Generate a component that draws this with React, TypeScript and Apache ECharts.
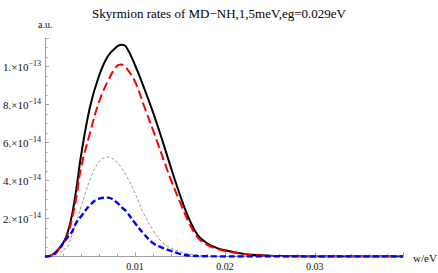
import React, { useEffect, useRef } from "react";
import * as echarts from "echarts";

// x values in eV
const xs = [0, 0.0005, 0.001, 0.0015, 0.002, 0.0025, 0.003, 0.0035, 0.004, 0.005, 0.006, 0.007, 0.008, 0.0085, 0.009, 0.01, 0.011, 0.012, 0.013, 0.014, 0.015, 0.016, 0.017, 0.018, 0.019, 0.02, 0.022, 0.024, 0.026, 0.028, 0.03, 0.035, 0.0398];
// rates in units of 1e-14 a.u.
const blackSeries = [0, 0.03, 0.16, 0.39, 0.68, 1.24, 2.18, 3.6, 5.29, 7.87, 9.5, 10.55, 11.05, 11.15, 11.05, 10.08, 8.89, 7.6, 6.18, 4.68, 3.25, 2.0, 1.12, 0.7, 0.47, 0.33, 0.15, 0.06, 0.025, 0.01, 0.004, 0, 0];
const redSeries = [0, 0.03, 0.15, 0.37, 0.63, 1.13, 1.97, 3.18, 4.66, 6.5, 8.13, 9.24, 10.03, 10.1, 9.95, 9.21, 7.94, 6.66, 5.34, 4.03, 2.87, 1.78, 1.0, 0.62, 0.42, 0.29, 0.13, 0.05, 0.02, 0.008, 0.003, 0, 0];
const graySeries = [0, 0.02, 0.08, 0.18, 0.34, 0.5, 1.13, 1.82, 2.6, 4.03, 4.97, 5.24, 4.97, 4.66, 4.29, 3.34, 2.24, 1.39, 0.76, 0.45, 0.26, 0.14, 0.08, 0.04, 0.02, 0.01, 0.003, 0, 0, 0, 0, 0, 0];
const blueSeries = [0, 0.01, 0.12, 0.35, 0.7, 1.0, 1.3, 1.8, 2.1, 2.71, 3.05, 3.1, 2.84, 2.6, 2.39, 1.76, 1.18, 0.71, 0.47, 0.3, 0.14, 0.05, 0.02, 0.01, 0.005, 0.003, 0, 0, 0, 0, 0, 0, 0];
const xTickLabels = ["0.01", "0.02", "0.03"];
const yTickValues = [2, 4, 6, 8, 10];

const FONT = "Liberation Serif";

export default function App() {
  const ref = useRef<HTMLDivElement>(null);
  useEffect(() => {
    if (!ref.current) return;
    const chart = echarts.init(ref.current, null, { renderer: "svg" });
    const pairs = (ys: number[]) => xs.map((x, i) => [x, ys[i]]);
    const lineBase = {
      type: "line",
      smooth: 0.4,
      showSymbol: false,
      symbol: "none",
    };
    chart.setOption({
      animation: false,
      backgroundColor: "#ffffff",
      textStyle: { fontFamily: FONT },
      title: {
        text: "Skyrmion rates of MD\u2212NH,1,5meV,eg=0.029eV",
        left: "center",
        top: 2,
        textStyle: { fontFamily: FONT, fontSize: 13, fontWeight: "normal", color: "#000" },
      },
      grid: { left: 45, right: 35, top: 38, bottom: 16.5, containLabel: false },
      graphic: [
        { type: "text", left: 38, top: 19, style: { text: "a.u.", fontFamily: FONT, fontSize: 10, fill: "#111" } },
        { type: "text", left: 413, top: 252, style: { text: "w/eV", fontFamily: FONT, fontSize: 11, fill: "#111" } },
      ],
      xAxis: {
        type: "value",
        min: 0,
        max: 0.0398,
        interval: 0.01,
        axisLine: { show: true, lineStyle: { color: "#a0a0a0", width: 1 } },
        axisTick: { show: true, inside: true, length: 4, lineStyle: { color: "#a0a0a0" } },
        minorTick: { show: true, splitNumber: 5, length: 2.5, lineStyle: { color: "#a0a0a0" } },
        splitLine: { show: false },
        axisLabel: {
          showMinLabel: false,
          showMaxLabel: false,
          margin: 5,
          fontFamily: FONT,
          fontSize: 10,
          color: "#111",
          formatter: (v: number) => {
            const s = v.toFixed(2);
            return xTickLabels.includes(s) ? s : "";
          },
        },
      },
      yAxis: {
        type: "value",
        min: 0,
        max: 11.5,
        interval: 2,
        axisLine: { show: true, lineStyle: { color: "#a0a0a0", width: 1 } },
        axisTick: { show: true, inside: true, length: 4, lineStyle: { color: "#a0a0a0" } },
        minorTick: { show: true, splitNumber: 4, length: 2.5, lineStyle: { color: "#a0a0a0" } },
        splitLine: { show: false },
        axisLabel: {
          showMinLabel: false,
          showMaxLabel: false,
          margin: 4,
          fontFamily: FONT,
          fontSize: 11,
          lineHeight: 14,
          color: "#111",
          formatter: (v: number) => {
            if (!yTickValues.includes(v)) return "";
            if (v >= 10) return `${v / 10}.\u00d710{s|\u221213}`;
            return `${v}.\u00d710{s|\u221214}`;
          },
          rich: {
            s: { fontFamily: FONT, fontSize: 8, color: "#111", lineHeight: 10, verticalAlign: "top" },
          },
        },
      },
      series: [
        { ...lineBase, name: "black", data: pairs(blackSeries), lineStyle: { color: "#000000", width: 2 }, z: 2 },
        { ...lineBase, name: "red", data: pairs(redSeries), lineStyle: { color: "#ff0000", width: 2, type: [9, 4] }, z: 3 },
        { ...lineBase, name: "gray", data: pairs(graySeries), lineStyle: { color: "#808080", width: 0.8, type: [3, 2] }, z: 4 },
        { ...lineBase, name: "blue", data: pairs(blueSeries), lineStyle: { color: "#0000ff", width: 2.4, type: [6, 3] }, z: 5 },
      ],
    });
    return () => chart.dispose();
  }, []);
  return <div ref={ref} style={{ width: 438, height: 273, position: "absolute", left: 0, top: 0 }} />;
}
